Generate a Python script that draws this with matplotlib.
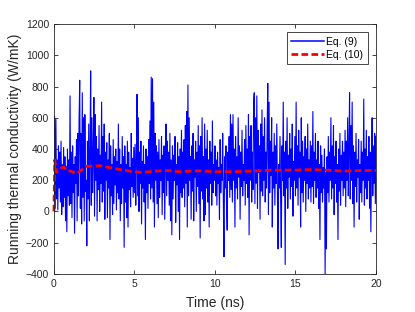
import numpy as np
import matplotlib
matplotlib.use("Agg")
import matplotlib.pyplot as plt

# Eq. (9): instantaneous running thermal conductivity
# in steps of 0.04 ns (one row per ns)
eq9_k = [
    0, 610, 20, 590, 80, 330, 10, 420, 150, 380, 60, 450, -20, 300, 30, 410, 90, 350, -60, 290, -130, 400, 100, 330, 40,
    740, 50, 380, -40, 420, 120, 300, -140, 350, 180, 460, -60, 500, 100, 580, 840, 20, 500, -80, 760, 90, 600, -60, 620, 130,
    200, -220, 450, 80, 560, -60, 380, 900, 40, 600, 120, 350, 730, -30, 620, 200, 480, -60, 400, 140, 550, 0, 360, 180, 700,
    60, 480, 130, 560, -50, 380, 200, 440, -40, 330, 150, 500, -180, 420, 100, 300, -20, 460, 50, 350, 170, 400, 10, 320, 120,
    560, 80, 400, -60, 300, 50, 480, 150, 350, -230, 420, 60, 300, -40, 450, -100, 380, 140, 280, 30, 500, 160, 340, 90, 410,
    120, 430, 40, 300, 750, 100, 600, 0, 380, 180, 450, -80, 320, 150, 420, 60, 300, -180, 400, 120, 350, 20, 460, 180, 580,
    80, 860, 150, 850, 60, 700, -100, 500, 200, 420, 50, 380, -40, 460, 90, 330, 200, 480, -20, 360, 120, 420, -50, 300, 560,
    100, 450, 200, 380, 40, 500, -60, 330, -150, 420, 80, 360, 200, 480, -70, 300, 170, 440, 0, 350, -180, 400, 120, 520, 90,
    380, 150, 460, 30, 550, 180, 640, -100, 810, 100, 600, 200, 350, -50, 420, 130, 500, -60, 330, 220, 450, 0, 380, 160, 550,
    50, 420, -170, 480, 130, 600, 80, 350, -60, 560, -20, 400, 150, 520, 60, 330, -100, 450, 180, 380, 40, 580, 120, 300, 200,
    420, 100, 330, 40, 380, 180, 280, -50, 460, 120, 300, 200, 500, 60, -290, 350, 150, 420, 30, -120, 380, 200, 480, 90, 620,
    140, 560, 60, 620, 200, 400, -100, 480, 150, 350, 80, 600, 220, 420, -50, 380, 160, 520, 100, 300, 200, 460, 40, 550, 180,
    400, 90, 620, -150, 480, 200, 550, 60, 380, 140, 700, 760, 50, 600, 180, 740, 20, 520, 250, 420, -50, 560, 130, 650, 100,
    480, 200, 600, 60, 380, 150, 520, 820, -20, 700, 120, 450, 230, 600, -100, 380, 150, 500, 40, 420, 180, 560, 90, -240, 300,
    150, 480, 60, -230, 420, 200, 700, 100, 380, -340, 450, 150, 600, 20, 360, 220, 500, 80, 400, 160, 560, -30, 320, 200, 480,
    100, 700, 150, 420, 40, 520, 220, 380, -100, 600, 120, 450, 60, 350, 200, 480, 0, 400, 180, 560, 80, 330, 150, 450, 60,
    420, 160, 640, 50, 380, 200, 500, 90, 330, 150, 450, 20, 300, -180, 420, 120, 360, 60, 280, 150, 400, -400, 250, -240, 350,
    120, 480, 60, 380, 200, 600, 80, 420, 150, 550, -20, 350, 180, 450, 60, 300, -180, 400, 130, 500, 40, 360, 200, 450, 100,
    380, 150, 520, 30, 450, 200, 600, 100, 400, 760, 80, 550, 200, 700, 50, 420, -100, 380, 160, 500, 60, 330, 220, 460, -50,
    300, 120, 450, 60, 380, 200, 720, 40, 400, 150, 520, 80, 350, 200, 480, 20, 380, -130, 300, 600, 100, 420, 180, 500, 50,
    480,
]

# Eq. (10): smoothed running value
eq10_t = [0, 0.05, 0.15, 0.3, 0.6, 0.8, 1.05, 1.4, 1.7, 2.0, 2.85, 3.9, 4.9, 5.5,
          6.2, 7.0, 7.8, 9.0, 10, 11, 12, 13.5, 15, 16, 17, 18, 19, 20]
eq10_k = [0, 330, 250, 270, 285, 262, 258, 242, 265, 288, 293, 272, 255, 250,
          258, 262, 255, 260, 255, 255, 257, 264, 265, 268, 264, 258, 262, 262]

eq9_t = np.linspace(0, 20, len(eq9_k))

plt.rcParams['font.family'] = ['Liberation Sans', 'DejaVu Sans']
gray = (0.15, 0.15, 0.15)

fig = plt.figure(figsize=(4.15, 3.12), dpi=100)
ax = fig.add_axes([0.130, 0.122, 0.776, 0.801])

ax.plot(eq9_t, eq9_k, color='blue', linewidth=0.8, label='Eq. (9)')
ax.plot(eq10_t, eq10_k, color='red', linewidth=2, linestyle=(0, (2.4, 1.2)),
        label='Eq. (10)', clip_on=False)

ax.set_xlim(0, 20)
ax.set_ylim(-400, 1200)
ax.set_xticks([0, 5, 10, 15, 20])
ax.set_yticks(range(-400, 1201, 200))
ax.tick_params(direction='in', top=True, right=True, length=3, width=0.6,
               labelsize=7.5, colors=gray)
for s in ax.spines.values():
    s.set_color(gray)
    s.set_linewidth(0.6)

ax.set_xlabel('Time (ns)', fontsize=10, color=gray, labelpad=5)
ax.set_ylabel('Running thermal conductivity (W/mK)', fontsize=10, color=gray, labelpad=3)

leg = ax.legend(loc='upper right', fontsize=7.5, fancybox=False, framealpha=1,
                edgecolor=gray, handlelength=3.2, handletextpad=0.2,
                borderpad=0.4, labelspacing=0.3, borderaxespad=0.8)
leg.get_frame().set_linewidth(0.6)
leg.get_lines()[0].set_linewidth(1.1)

fig.savefig('out.png', dpi=100)
